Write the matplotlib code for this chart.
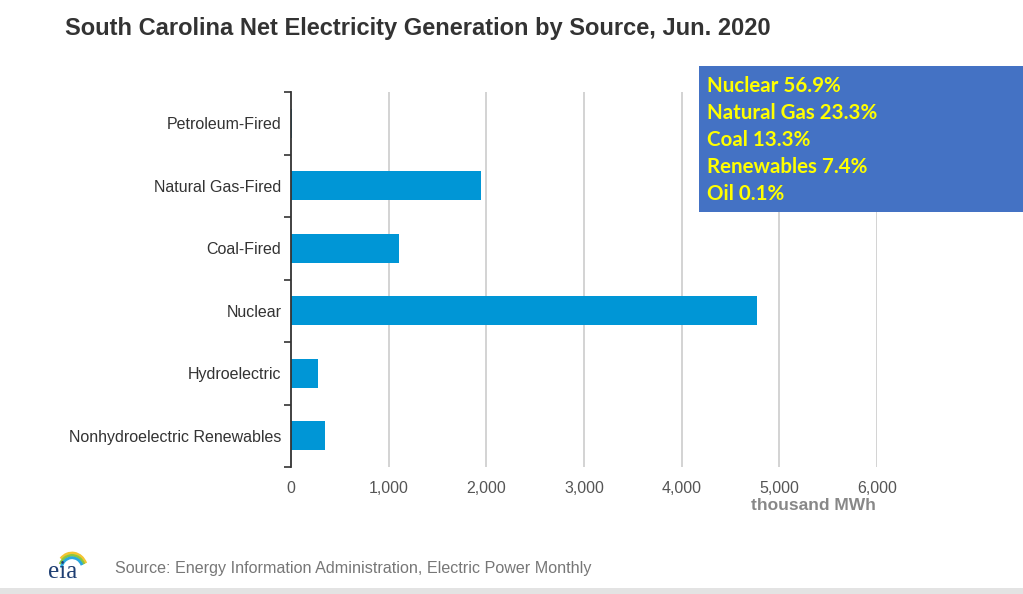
import matplotlib
matplotlib.use("Agg")
import matplotlib.pyplot as plt
from matplotlib.patches import Rectangle, Arc
import numpy as np

categories = ["Petroleum-Fired", "Natural Gas-Fired", "Coal-Fired", "Nuclear",
              "Hydroelectric", "Nonhydroelectric Renewables"]
values = [8, 1945, 1106, 4771, 276, 348]
xticks = [0, 1000, 2000, 3000, 4000, 5000, 6000]
xtick_labels = ["0", "1,000", "2,000", "3,000", "4,000", "5,000", "6,000"]
share_lines = ["Nuclear 56.9%", "Natural Gas 23.3%", "Coal 13.3%",
               "Renewables 7.4%", "Oil 0.1%"]

W, H = 1023, 594
fig = plt.figure(figsize=(W / 100, H / 100), dpi=100)
fig.patch.set_facecolor("white")
plt.rcParams['font.family'] = ['Liberation Sans', 'DejaVu Sans']

def fx(px):
    return px / W

def fy(py):
    return 1 - py / H

# bottom gray band
fig.patches.append(Rectangle((0, 0), 1, 6 / H, transform=fig.transFigure,
                             facecolor="#e3e3e3", edgecolor="none", zorder=0))

ax = fig.add_axes([fx(291), fy(467), fx(877) - fx(291), fy(92) - fy(467)])
n = len(categories)
ypos = np.arange(n)
ax.barh(ypos, values, height=0.46, color="#0096d6", zorder=3)
ax.set_ylim(n - 0.5, -0.5)
ax.set_xlim(0, 6000)

ax.set_xticks(xticks)
ax.set_xticklabels(xtick_labels, color="#555555", fontsize=11.5)
ax.set_yticks(ypos)
ax.set_yticklabels(categories, color="#333333", fontsize=11.5)
ax.tick_params(axis="x", length=0, pad=10)
ax.tick_params(axis="y", which="major", length=0, pad=7)
ax.set_yticks(np.arange(n + 1) - 0.5, minor=True)
ax.tick_params(axis="y", which="minor", length=5, width=1.2, color="#333333",
               direction="out")

for s in ["top", "right", "bottom"]:
    ax.spines[s].set_visible(False)
ax.spines["left"].set_color("#333333")
ax.spines["left"].set_linewidth(1.3)
ax.spines["left"].set_zorder(4)

for xv in xticks[1:]:
    ax.axvline(xv, color="#cccccc", linewidth=1.2, zorder=1)

fig.text(fx(813), fy(505), "thousand MWh", ha="center", va="center",
         fontsize=12.5, fontweight="bold", color="#888888")

fig.text(fx(65), fy(29), "South Carolina Net Electricity Generation by Source, Jun. 2020",
         ha="left", va="center", fontsize=17, fontweight="bold", color="#333333")

fig.text(fx(115), fy(569), "Source: Energy Information Administration, Electric Power Monthly",
         ha="left", va="center", fontsize=11.6, color="#777777")

# eia logo
fig.text(fx(63), fy(572), "eia", ha="center", va="center", fontsize=18,
         family="Liberation Serif", color="#1f3f73")
for i, c in enumerate(["#f4c430", "#8cc63f", "#29a8e0"]):
    fig.patches.append(Arc((fx(72), fy(570)), fx(30) - i * 0.004, fy(0) - fy(34) - i * 0.008,
                           theta1=40, theta2=120 + i * 20, transform=fig.transFigure,
                           color=c, linewidth=2))

# blue box
fig.patches.append(Rectangle((fx(699), fy(212)), fx(1023) - fx(699), fy(66) - fy(212),
                             transform=fig.transFigure, facecolor="#4472c4",
                             edgecolor="none", zorder=5))
for i, t in enumerate(share_lines):
    fig.text(fx(707), fy(86 + 27 * i), t, ha="left", va="center", fontsize=14.8,
             fontweight="bold", family="Lato", color="#ffff00", zorder=6)

fig.savefig("out.png", dpi=100, facecolor="white")
